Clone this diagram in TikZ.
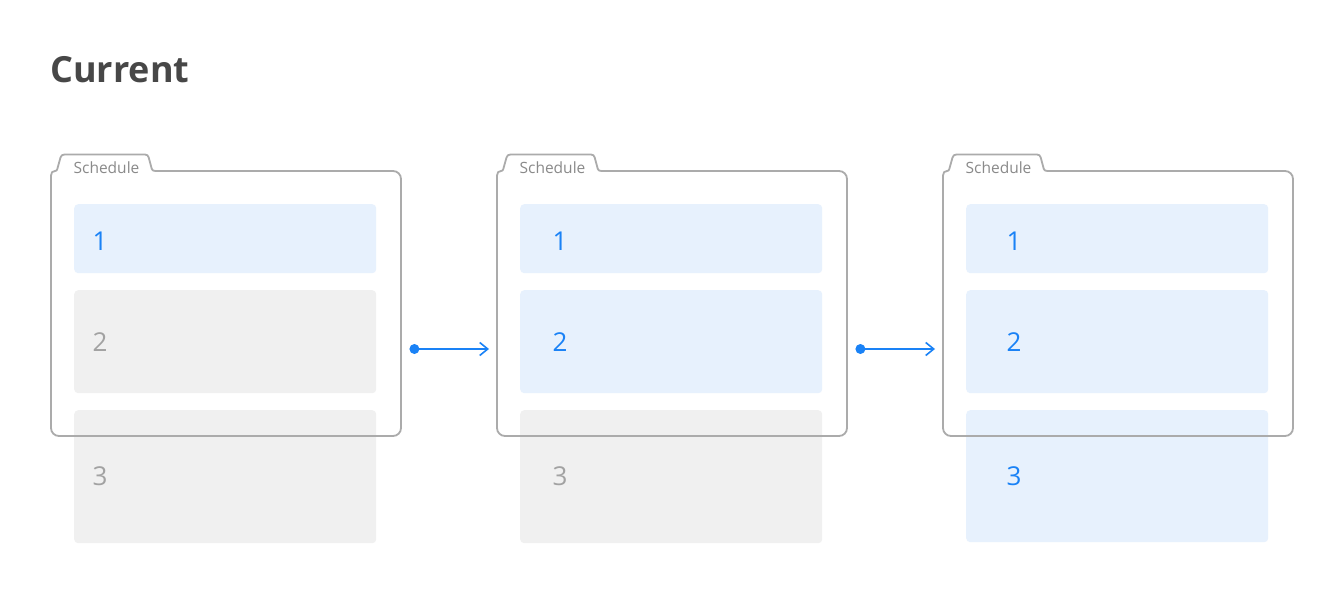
\documentclass[tikz,border=0pt]{standalone}
\usepackage{fontspec}
\setmainfont{Open Sans}
\usetikzlibrary{arrows.meta}
\definecolor{framegray}{HTML}{ABABAB}
\definecolor{rowblue}{HTML}{E7F1FD}
\definecolor{rowgray}{HTML}{F0F0F0}
\definecolor{numblue}{HTML}{1A82F6}
\definecolor{numgray}{HTML}{A2A2A2}
\definecolor{tabtextcol}{HTML}{8A8A8A}
\definecolor{titlecol}{HTML}{474747}
\newcommand\tabframe[1]{%
\begin{scope}[shift={(#1.north west)}]
\draw[frameline] (0,130) -- (0,257) .. controls (0,261.4) and (3.6,265) .. (8,265)
 -- (342,265) .. controls (346.4,265) and (350,261.4) .. (350,257)
 -- (350,8) .. controls (350,3.6) and (346.4,0) .. (342,0)
 -- (104.5,0) .. controls (102.5,0) and (101.2,-0.6) .. (100.8,-2)
 -- (97.7,-13.5) .. controls (97.1,-15.5) and (96,-16.5) .. (94,-16.5)
 -- (13.5,-16.5) .. controls (11.5,-16.5) and (10.1,-15.5) .. (9.5,-13.5)
 -- (6.3,-2) .. controls (5.9,-0.6) and (5.3,0) .. (4,0)
 .. controls (1.5,0) and (0,1.5) .. (0,4.5) -- cycle;
\end{scope}}
\begin{document}
\begin{tikzpicture}[x=1pt,y=-1pt,
  framebox/.style={rectangle, draw=none, inner sep=0pt, minimum width=350pt, minimum height=265pt, anchor=north west},
  frameline/.style={draw=framegray, line width=1.8pt, line join=round},
  rowbox/.style={rectangle, rounded corners=4pt, inner sep=0pt, minimum width=302pt, anchor=north west},
  bluerow/.style={rowbox, fill=rowblue},
  grayrow/.style={rowbox, fill=rowgray},
  num/.style={inner sep=0pt, font=\fontsize{26}{26}\selectfont},
  bluenum/.style={num, text=numblue},
  graynum/.style={num, text=numgray},
  tablabel/.style={inner sep=0pt, anchor=base, text=tabtextcol, font=\fontsize{15.5}{16}\selectfont},
  dotnode/.style={circle, fill=numblue, inner sep=0pt, minimum size=10pt},
  conn/.style={draw=numblue, line width=1.6pt, -{Straight Barb[length=8pt,width=13pt,line width=1.6pt]}}
]
\useasboundingbox (0,0) rectangle (1340,604);
\fill[white] (0,0) rectangle (1340,604);

\node[anchor=base west, inner sep=0pt, text=titlecol, font=\fontsize{36}{36}\selectfont\bfseries] (title) at (50,82.7) {Current};

% frames (invisible anchors)
\node[framebox] (f1) at (51,171) {};
\node[framebox] (f2) at (497,171) {};
\node[framebox] (f3) at (943,171) {};

% panel 1
\node[bluerow, minimum height=69pt] (p1r1) at ([shift={(23,33)}]f1.north west) {};
\node[grayrow, minimum height=103pt] (p1r2) at ([shift={(23,119)}]f1.north west) {};
\node[grayrow, minimum height=133pt] (p1r3) at ([shift={(23,239)}]f1.north west) {};
\node[bluenum] (p1n1) at ([shift={(26,3)}]p1r1.west) {1};
\node[graynum] (p1n2) at ([shift={(26,0)}]p1r2.west) {2};
\node[graynum] (p1n3) at ([shift={(26,0)}]p1r3.west) {3};

% panel 2
\node[bluerow, minimum height=69pt] (p2r1) at ([shift={(23,33)}]f2.north west) {};
\node[bluerow, minimum height=103pt] (p2r2) at ([shift={(23,119)}]f2.north west) {};
\node[grayrow, minimum height=133pt] (p2r3) at ([shift={(23,239)}]f2.north west) {};
\node[bluenum] (p2n1) at ([shift={(40,3)}]p2r1.west) {1};
\node[bluenum] (p2n2) at ([shift={(40,0)}]p2r2.west) {2};
\node[graynum] (p2n3) at ([shift={(40,0)}]p2r3.west) {3};

% panel 3
\node[bluerow, minimum height=69pt] (p3r1) at ([shift={(23,33)}]f3.north west) {};
\node[bluerow, minimum height=103pt] (p3r2) at ([shift={(23,119)}]f3.north west) {};
\node[bluerow, minimum height=132pt] (p3r3) at ([shift={(23,239)}]f3.north west) {};
\node[bluenum] (p3n1) at ([shift={(48,3)}]p3r1.west) {1};
\node[bluenum] (p3n2) at ([shift={(48,0)}]p3r2.west) {2};
\node[bluenum] (p3n3) at ([shift={(48,0)}]p3r3.west) {3};

% outlines
\tabframe{f1}
\tabframe{f2}
\tabframe{f3}
\node[tablabel] (t1) at ([shift={(55.5,2.8)}]f1.north west) {Schedule};
\node[tablabel] (t2) at ([shift={(55.5,2.8)}]f2.north west) {Schedule};
\node[tablabel] (t3) at ([shift={(55.5,2.8)}]f3.north west) {Schedule};

% connectors
\node[dotnode] (d1) at ([shift={(13,178)}]f1.north east) {};
\coordinate (e1) at ([shift={(-8,178)}]f2.north west);
\draw[conn] (d1.center) -- (e1);
\node[dotnode] (d2) at ([shift={(13,178)}]f2.north east) {};
\coordinate (e2) at ([shift={(-8,178)}]f3.north west);
\draw[conn] (d2.center) -- (e2);
\end{tikzpicture}
\end{document}
